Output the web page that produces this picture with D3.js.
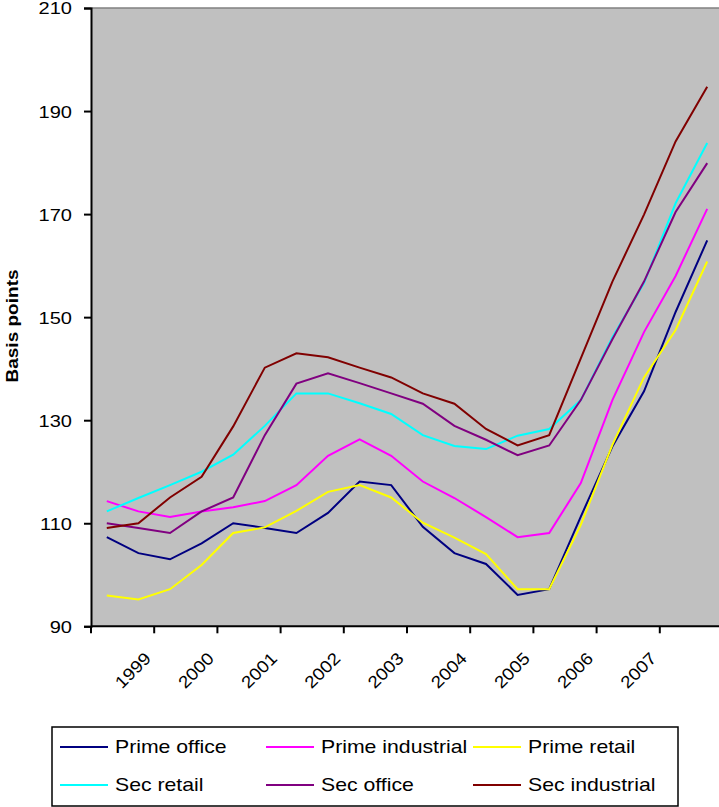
<!DOCTYPE html>
<html>
<head>
<meta charset="utf-8">
<script src="https://cdn.jsdelivr.net/npm/d3@7/dist/d3.min.js"></script>
<style>
  html, body { margin: 0; padding: 0; background: #ffffff; }
  svg { display: block; font-family: Arial, "Liberation Sans", sans-serif; }
</style>
</head>
<body>
<svg id="chart" width="719" height="807"></svg>
<script>
// Half-year periods, 1998 H1 .. 2007 H2
const years = [1998, 1999, 2000, 2001, 2002, 2003, 2004, 2005, 2006, 2007];
const halves = ["H1", "H2"];
const periods = years.flatMap(y => halves.map(h => y + " " + h));

// Year labels shown under the axis
const yearLabels = ["1999", "2000", "2001", "2002", "2003", "2004", "2005", "2006", "2007"];

// Y axis ticks (basis points)
const yTicks = [90, 110, 130, 150, 170, 190, 210];

// Series values (basis points), one per half-year
const primeOffice     = [107.3, 104.2, 103.0, 106.1, 110.0, 109.1, 108.1, 112.0, 118.1, 117.4,
                         109.3, 104.2, 102.1, 96.1, 97.2, 111.3, 124.9, 135.6, 151.0, 164.9];
const primeIndustrial = [114.3, 112.3, 111.2, 112.3, 113.1, 114.3, 117.4, 123.1, 126.3, 123.1,
                         118.1, 114.9, 111.2, 107.3, 108.1, 117.8, 133.9, 147.1, 158.0, 171.0];
const primeRetail     = [96.0, 95.2, 97.2, 101.9, 108.1, 109.2, 112.4, 116.1, 117.4, 115.0,
                         110.1, 107.2, 104.0, 97.2, 97.2, 109.7, 125.2, 138.3, 147.5, 160.8];
const secRetail       = [112.3, 114.9, 117.4, 120.0, 123.3, 128.9, 135.2, 135.2, 133.3, 131.2,
                         127.1, 125.0, 124.4, 127.0, 128.3, 133.9, 146.1, 156.6, 172.1, 183.8];
const secOffice       = [110.0, 109.1, 108.1, 112.3, 115.0, 127.1, 137.1, 139.1, 137.2, 135.2,
                         133.2, 128.9, 126.2, 123.2, 125.1, 133.9, 145.7, 156.9, 170.4, 179.9];
const secIndustrial   = [109.1, 110.0, 115.0, 119.0, 128.8, 140.2, 143.0, 142.2, 140.2, 138.3,
                         135.2, 133.2, 128.3, 125.1, 127.1, 142.0, 156.9, 169.9, 184.1, 194.7];

const seriesNames  = ["Prime office", "Prime industrial", "Prime retail", "Sec retail", "Sec office", "Sec industrial"];
const seriesValues = [primeOffice, primeIndustrial, primeRetail, secRetail, secOffice, secIndustrial];
const seriesColors = ["#000080", "#FF00FF", "#FFFF00", "#00FFFF", "#800080", "#800000"];

const svg = d3.select("#chart");

const plot = { left: 91, top: 8, right: 723, bottom: 626.3 };

const x = d3.scaleBand().domain(periods).range([plot.left, plot.right]).padding(0);
const y = d3.scaleLinear().domain([90, 210]).range([plot.bottom, plot.top]);

// Text helper: the font is drawn slightly widened horizontally
function label(parent, tx, ty, rot, str, opts) {
  const g = parent.append("g").attr("transform", `translate(${tx},${ty}) rotate(${rot})`);
  return g.append("text")
    .attr("transform", `scale(${opts.sx},1)`)
    .attr("text-anchor", opts.anchor)
    .attr("dominant-baseline", "middle")
    .attr("font-size", opts.size)
    .attr("font-weight", opts.weight || "normal")
    .attr("fill", "#000")
    .text(str);
}

// Plot area background
svg.append("rect")
  .attr("x", plot.left).attr("y", plot.top)
  .attr("width", plot.right - plot.left).attr("height", plot.bottom - plot.top)
  .attr("fill", "#C0C0C0");

// Top border of plot area
svg.append("line")
  .attr("x1", plot.left).attr("x2", plot.right)
  .attr("y1", plot.top).attr("y2", plot.top)
  .attr("stroke", "#808080").attr("stroke-width", 1.5);

// Series lines
const line = d3.line()
  .x((d, i) => x(periods[i]) + x.bandwidth() / 2)
  .y(d => y(d));

svg.append("g")
  .selectAll("path")
  .data(seriesValues)
  .join("path")
  .attr("d", d => line(d))
  .attr("fill", "none")
  .attr("stroke", (d, i) => seriesColors[i])
  .attr("stroke-width", 2)
  .attr("stroke-linejoin", "miter");

// Y axis
const yAxis = d3.axisLeft(y).tickValues(yTicks).tickSize(7).tickFormat("");
const gy = svg.append("g").attr("transform", `translate(${plot.left},0)`).call(yAxis);
gy.select(".domain").attr("stroke", "#000").attr("stroke-width", 2);
gy.selectAll(".tick line").attr("stroke", "#000").attr("stroke-width", 2);
const yLab = svg.append("g");
yTicks.forEach(t => label(yLab, 72, y(t) + 2, 0, String(t), { size: 17, sx: 1.18, anchor: "end" }));

// X axis: ticks at the start of each year
const yearStarts = years.map(yr => yr + " H1");
const xAxis = d3.axisBottom(x).tickValues(yearStarts).tickSize(7).tickFormat("");
const gx = svg.append("g").attr("transform", `translate(0,${plot.bottom})`).call(xAxis);
gx.selectAll(".tick").attr("transform", d => `translate(${x(d)},0)`);
gx.select(".domain").attr("d", `M${plot.left},0H${plot.right}`).attr("stroke", "#000").attr("stroke-width", 2);
gx.selectAll(".tick line").attr("stroke", "#000").attr("stroke-width", 2);

// Rotated year labels
const xLab = svg.append("g");
yearLabels.forEach(d => label(xLab, x(d + " H1") - 5.5, plot.bottom + 30, -45, d, { size: 17, sx: 1.12, anchor: "end" }));

// Y axis title
label(svg, 14, 326, -90, "Basis points", { size: 17, sx: 1.12, anchor: "middle", weight: "bold" });

// Legend
const legend = { x: 52, y: 727, w: 626, h: 79 };
svg.append("rect")
  .attr("x", legend.x).attr("y", legend.y)
  .attr("width", legend.w).attr("height", legend.h)
  .attr("fill", "#fff").attr("stroke", "#000").attr("stroke-width", 1.5);

const colX = [60, 266, 473];
const rowY = [747, 785];
const items = svg.append("g")
  .selectAll("g")
  .data(seriesNames)
  .join("g")
  .attr("transform", (d, i) => `translate(${colX[i % 3]},${rowY[Math.floor(i / 3)]})`);
items.append("line")
  .attr("x1", 0).attr("x2", 48).attr("y1", 0).attr("y2", 0)
  .attr("stroke", (d, i) => seriesColors[i]).attr("stroke-width", 2);
items.each(function (d) {
  label(d3.select(this), 55, 1, 0, d, { size: 18, sx: 1.18, anchor: "start" });
});
</script>
</body>
</html>
